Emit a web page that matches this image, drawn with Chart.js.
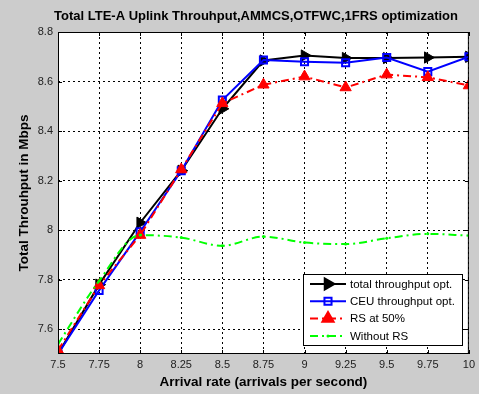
<!DOCTYPE html>
<html>
<head>
<meta charset="utf-8">
<script src="https://cdn.jsdelivr.net/npm/chart.js@4.4.1/dist/chart.umd.min.js"></script>
<style>
  html, body { margin: 0; padding: 0; background: #cccccc; }
  #wrap { width: 479px; height: 394px; }
</style>
</head>
<body>
<div id="wrap"><canvas id="throughputChart" width="479" height="394"></canvas></div>
<script>
// Arrival rate (x) and the four series
const arrivalRates = [7.5, 7.75, 8, 8.25, 8.5, 8.75, 9, 9.25, 9.5, 9.75, 10];
const totalOpt = [7.50, 7.78, 8.03, 8.24, 8.49, 8.685, 8.705, 8.695, 8.695, 8.697, 8.70];
const ceuOpt   = [7.50, 7.757, 7.993, 8.24, 8.525, 8.687, 8.68, 8.676, 8.697, 8.64, 8.70];
const rsHalf   = [7.515, 7.777, 7.98, 8.245, 8.512, 8.587, 8.62, 8.576, 8.628, 8.617, 8.584];
const withoutRs = [7.54, 7.795, 7.98, 7.97, 7.937, 7.974, 7.95, 7.944, 7.967, 7.985, 7.978];

const xTicks = [7.5, 7.75, 8, 8.25, 8.5, 8.75, 9, 9.25, 9.5, 9.75, 10];
const yTicks = [7.6, 7.8, 8, 8.2, 8.4, 8.6, 8.8];

const seriesLabels = ['total throughput opt.', 'CEU throughput opt.', 'RS at 50%', 'Without RS'];
const chartTitle = 'Total LTE-A Uplink Throuhput,AMMCS,OTFWC,1FRS optimization';

const FONT = '"Liberation Sans", Arial, sans-serif';
Chart.defaults.font.family = FONT;
Chart.defaults.color = '#000';

function toPoints(values) {
    return arrivalRates.map((x, i) => ({ x: x, y: values[i] }));
}

// white plot background + full black box with inner tick marks
const plotBox = {
    id: 'plotBox',
    beforeDatasetsDraw(chart) {
        const { ctx, chartArea: a } = chart;
        ctx.save();
        ctx.globalCompositeOperation = 'destination-over';
        ctx.fillStyle = '#fff';
        ctx.fillRect(a.left, a.top, a.right - a.left, a.bottom - a.top);
        ctx.restore();
    },
    afterDraw(chart) {
        const { ctx, chartArea: a, scales } = chart;
        ctx.save();
        ctx.strokeStyle = '#000';
        ctx.lineWidth = 1;
        ctx.strokeRect(a.left + 0.5, a.top + 0.5, a.right - a.left - 1, a.bottom - a.top - 1);
        ctx.beginPath();
        xTicks.forEach(v => {
            const px = Math.round(scales.x.getPixelForValue(v)) + 0.5;
            ctx.moveTo(px, a.bottom); ctx.lineTo(px, a.bottom - 4);
            ctx.moveTo(px, a.top); ctx.lineTo(px, a.top + 4);
        });
        yTicks.forEach(v => {
            const py = Math.round(scales.y.getPixelForValue(v)) + 0.5;
            ctx.moveTo(a.left, py); ctx.lineTo(a.left + 4, py);
            ctx.moveTo(a.right, py); ctx.lineTo(a.right - 4, py);
        });
        ctx.stroke();

        // title
        ctx.fillStyle = '#000';
        ctx.font = 'bold 13px ' + FONT;
        ctx.textAlign = 'center';
        ctx.textBaseline = 'middle';
        ctx.fillText(chartTitle, 256, 16);
        ctx.restore();
    }
};

// matlab-style legend box: line sample with marker in the middle
const boxLegend = {
    id: 'boxLegend',
    afterDraw(chart) {
        const { ctx } = chart;
        const left = 303, top = 274, w = 159, h = 71;
        ctx.save();
        ctx.fillStyle = '#fff';
        ctx.fillRect(left, top, w, h);
        ctx.strokeStyle = '#000';
        ctx.lineWidth = 1;
        ctx.strokeRect(left + 0.5, top + 0.5, w, h);

        chart.data.datasets.forEach((ds, i) => {
            const y = 284 + i * 17.3;
            ctx.save();
            ctx.strokeStyle = ds.borderColor;
            ctx.lineWidth = ds.borderWidth;
            ctx.setLineDash(ds.borderDash || []);
            ctx.beginPath();
            ctx.moveTo(310, y);
            ctx.lineTo(346, y);
            ctx.stroke();
            ctx.setLineDash([]);
            ctx.fillStyle = ds.pointBackgroundColor;
            ctx.strokeStyle = ds.pointBorderColor;
            Chart.helpers.drawPoint(ctx, {
                pointStyle: ds.pointStyle,
                rotation: ds.pointRotation || 0,
                radius: ds.pointRadius,
                borderWidth: ds.pointBorderWidth
            }, 328, y);
            ctx.restore();

            ctx.fillStyle = '#000';
            ctx.font = '11.5px ' + FONT;
            ctx.textAlign = 'left';
            ctx.textBaseline = 'middle';
            ctx.fillText(seriesLabels[i], 350, y + 0.5);
        });
        ctx.restore();
    }
};

new Chart(document.getElementById('throughputChart'), {
    type: 'line',
    data: {
        datasets: [
            {
                label: seriesLabels[0],
                data: toPoints(totalOpt),
                borderColor: '#000',
                borderWidth: 2,
                pointStyle: 'triangle',
                pointRotation: 90,
                pointRadius: 6.5,
                pointBackgroundColor: '#000',
                pointBorderColor: '#000',
                pointBorderWidth: 1,
                order: 4
            },
            {
                label: seriesLabels[1],
                data: toPoints(ceuOpt),
                borderColor: '#0000ff',
                borderWidth: 2,
                pointStyle: 'rect',
                pointRadius: 5,
                pointBackgroundColor: 'rgba(0,0,0,0)',
                pointBorderColor: '#0000ff',
                pointBorderWidth: 2,
                order: 3
            },
            {
                label: seriesLabels[2],
                data: toPoints(rsHalf),
                borderColor: '#ff0000',
                borderWidth: 2,
                borderDash: [8, 4, 2, 4],
                pointStyle: 'triangle',
                pointRadius: 6.5,
                pointBackgroundColor: '#ff0000',
                pointBorderColor: '#ff0000',
                pointBorderWidth: 1,
                order: 2
            },
            {
                label: seriesLabels[3],
                data: toPoints(withoutRs),
                borderColor: '#00ff00',
                borderWidth: 2,
                borderDash: [8, 4, 2, 4],
                cubicInterpolationMode: 'monotone',
                pointStyle: 'circle',
                pointRadius: 1.5,
                pointBackgroundColor: '#00ff00',
                pointBorderColor: '#00ff00',
                pointBorderWidth: 0,
                order: 1
            }
        ]
    },
    options: {
        responsive: false,
        animation: false,
        layout: { padding: { top: 32, right: 10, bottom: 0, left: 0 } },
        plugins: {
            legend: { display: false },
            title: { display: false },
            tooltip: { enabled: false }
        },
        scales: {
            x: {
                type: 'linear',
                min: 7.5,
                max: 10,
                afterBuildTicks: s => { s.ticks = xTicks.map(v => ({ value: v })); },
                afterFit: s => { s.height = 40; },
                ticks: { font: { size: 11 }, color: '#222', padding: 4, maxRotation: 0, autoSkip: false, callback: v => String(v) },
                grid: { color: '#000', lineWidth: 1, drawTicks: false },
                border: { display: false, dash: [2, 3] },
                title: {
                    display: true,
                    text: 'Arrival rate (arrivals per second)',
                    font: { size: 13.5, weight: 'bold' },
                    padding: { top: 0, bottom: 4 }
                }
            },
            y: {
                min: 7.5,
                max: 8.8,
                afterBuildTicks: s => { s.ticks = yTicks.map(v => ({ value: v })); },
                afterFit: s => { s.width = 58; },
                ticks: { font: { size: 11 }, color: '#222', padding: 5, callback: v => String(v) },
                grid: { color: '#000', lineWidth: 1, drawTicks: false },
                border: { display: false, dash: [2, 3] },
                title: {
                    display: true,
                    text: 'Total Throuhput in Mbps',
                    font: { size: 13.5, weight: 'bold' },
                    padding: { top: 16, bottom: 0 }
                }
            }
        }
    },
    plugins: [plotBox, boxLegend]
});
</script>
</body>
</html>
